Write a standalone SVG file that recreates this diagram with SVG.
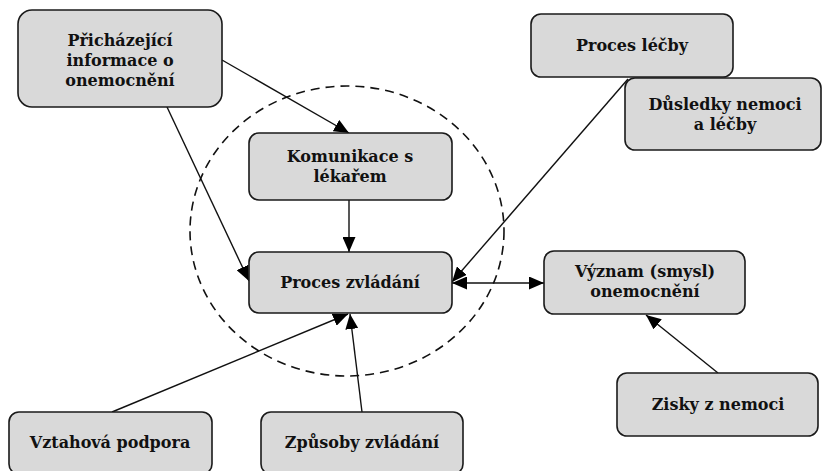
<svg xmlns="http://www.w3.org/2000/svg" width="822" height="471" viewBox="0 0 822 471">
<defs>
<marker id="arr" viewBox="0 0 15 13" refX="15" refY="6.5" markerWidth="15" markerHeight="13" markerUnits="userSpaceOnUse" orient="auto-start-reverse">
<path d="M0,0 L15,6.5 L0,13 Z" fill="#000"/>
</marker>
<style>
.box{fill:#d9d9d9;stroke:#1a1a1a;stroke-width:1.6}
.t{font-family:"DejaVu Serif","Liberation Serif",serif;font-weight:bold;font-size:16px;fill:#111;text-anchor:middle}
.c{stroke:#111;stroke-width:1.4;fill:none}
</style>
</defs>
<rect width="822" height="471" fill="#fff"/>
<ellipse cx="347" cy="231" rx="157" ry="145" fill="none" stroke="#111" stroke-width="1.6" stroke-dasharray="9,6"/>
<g id="connectors">
<line class="c" x1="222" y1="60" x2="349" y2="133" marker-end="url(#arr)"/>
<line class="c" x1="167" y1="107" x2="249" y2="281" marker-end="url(#arr)"/>
<line class="c" x1="349" y1="200" x2="349" y2="252" marker-end="url(#arr)"/>
<line class="c" x1="628" y1="79" x2="452" y2="282" marker-end="url(#arr)"/>
<line class="c" x1="452" y1="283" x2="544" y2="283" marker-start="url(#arr)" marker-end="url(#arr)"/>
<line class="c" x1="112" y1="412" x2="348" y2="314" marker-end="url(#arr)"/>
<line class="c" x1="362" y1="412" x2="350" y2="314" marker-end="url(#arr)"/>
<line class="c" x1="718" y1="373" x2="646" y2="315" marker-end="url(#arr)"/>
</g>
<g id="n-prichazejici">
<rect class="box" x="18" y="10" width="204" height="97" rx="14"/>
<text class="t" x="120" y="46">Přicházející</text>
<text class="t" x="120" y="66">informace o</text>
<text class="t" x="120" y="86">onemocnění</text>
</g>
<g id="n-komunikace">
<rect class="box" x="249" y="133" width="203" height="67" rx="10"/>
<text class="t" x="350" y="162">Komunikace s</text>
<text class="t" x="350" y="182">lékařem</text>
</g>
<g id="n-proces-zvladani">
<rect class="box" x="249" y="252" width="203" height="61" rx="10"/>
<text class="t" x="350" y="288">Proces zvládání</text>
</g>
<g id="n-proces-lecby">
<rect class="box" x="531" y="14" width="202" height="63" rx="10"/>
<text class="t" x="632" y="51">Proces léčby</text>
</g>
<g id="n-dusledky">
<rect class="box" x="625" y="78" width="196" height="72" rx="10"/>
<text class="t" x="725" y="110">Důsledky nemoci</text>
<text class="t" x="725" y="130">a léčby</text>
</g>
<g id="n-vyznam">
<rect class="box" x="544" y="251" width="201" height="63" rx="10"/>
<text class="t" x="645" y="277">Význam (smysl)</text>
<text class="t" x="645" y="297">onemocnění</text>
</g>
<g id="n-zisky">
<rect class="box" x="617" y="373" width="201" height="63" rx="10"/>
<text class="t" x="718" y="410">Zisky z nemoci</text>
</g>
<g id="n-vztahova">
<rect class="box" x="9" y="412" width="203" height="62" rx="10"/>
<text class="t" x="110" y="448">Vztahová podpora</text>
</g>
<g id="n-zpusoby">
<rect class="box" x="261" y="412" width="202" height="62" rx="10"/>
<text class="t" x="362" y="448">Způsoby zvládání</text>
</g>
</svg>
